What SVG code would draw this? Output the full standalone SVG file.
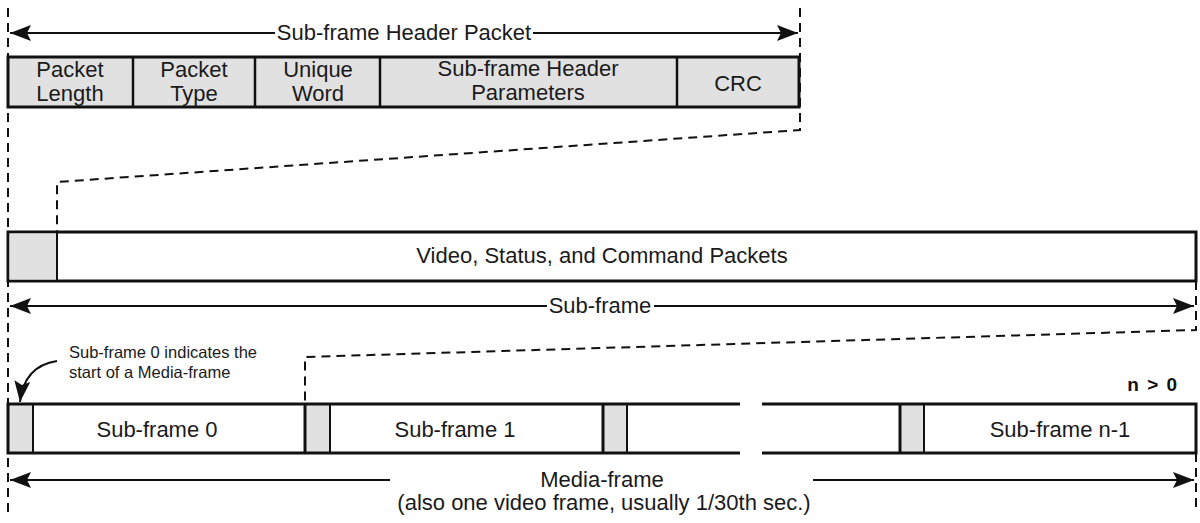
<svg xmlns="http://www.w3.org/2000/svg" width="1200" height="523" viewBox="0 0 1200 523">
<style>
.t{font-family:"Liberation Sans",Arial,sans-serif;font-size:22px;fill:#1a1a1a;text-anchor:middle}
.s{font-family:"Liberation Sans",Arial,sans-serif;font-size:16.5px;fill:#1a1a1a}
.b{font-family:"Liberation Sans",Arial,sans-serif;font-size:19px;font-weight:bold;fill:#111;text-anchor:middle;letter-spacing:1.5px}
.box{stroke:#111;stroke-width:3;fill:#fff}
.hd{fill:#e1e1e1}
.dv{stroke:#111;stroke-width:2.5}
.dv2{stroke:#111;stroke-width:2}
.dash{stroke:#111;stroke-width:2;fill:none;stroke-dasharray:9 6}
.arr{stroke:#111;stroke-width:2;fill:none}
</style>
<defs>
<marker id="ah" markerUnits="userSpaceOnUse" markerWidth="22" markerHeight="18" refX="21" refY="9" orient="auto-start-reverse">
<path d="M0,1 L21,9 L0,17 L4,9 z" fill="#111"/>
</marker>
</defs>

<g id="connectors">
<path class="dash" d="M8,8 V512"/>
<path class="dash" d="M800,8 V130 L57,182 V232"/>
<path class="dash" d="M1196,281 V330 L305,357 V404"/>
<path class="dash" d="M1196,453 V512"/>
<path class="arr" d="M275,33 H10" marker-end="url(#ah)"/>
<path class="arr" d="M533,33 H798" marker-end="url(#ah)"/>
<path class="arr" d="M547,306 H10" marker-end="url(#ah)"/>
<path class="arr" d="M654,306 H1194" marker-end="url(#ah)"/>
<path class="arr" d="M390,480 H10" marker-end="url(#ah)"/>
<path class="arr" d="M813,480 H1194" marker-end="url(#ah)"/>
<path class="arr" d="M57,361 Q24,366 20,402" marker-end="url(#ah)"/>
</g>

<g id="header-label"><text class="t" x="404" y="40">Sub-frame Header Packet</text></g>

<g id="header-packet">
<rect class="box" x="8" y="57" width="791" height="50" style="fill:#e1e1e1"/>
<line class="dv" x1="133" y1="57" x2="133" y2="107"/>
<line class="dv" x1="255" y1="57" x2="255" y2="107"/>
<line class="dv" x1="380" y1="57" x2="380" y2="107"/>
<line class="dv" x1="677" y1="57" x2="677" y2="107"/>
<text class="t" x="70" y="77">Packet</text>
<text class="t" x="70" y="101">Length</text>
<text class="t" x="194" y="77">Packet</text>
<text class="t" x="194" y="101">Type</text>
<text class="t" x="318" y="77">Unique</text>
<text class="t" x="318" y="101">Word</text>
<text class="t" x="528" y="76">Sub-frame Header</text>
<text class="t" x="528" y="100">Parameters</text>
<text class="t" x="738" y="91">CRC</text>
</g>

<g id="subframe">
<rect class="box" x="8" y="232" width="1188" height="49"/>
<rect class="hd" x="9.5" y="233.5" width="47.5" height="46"/>
<line class="dv2" x1="57" y1="232" x2="57" y2="281"/>
<text class="t" x="602" y="263">Video, Status, and Command Packets</text>
</g>

<g id="subframe-label"><text class="t" x="600" y="313">Sub-frame</text></g>

<g id="annotation">
<text class="s" x="69" y="358">Sub-frame 0 indicates the</text>
<text class="s" x="69" y="378">start of a Media-frame</text>
</g>

<g id="nlabel"><text class="b" x="1153" y="391">n &gt; 0</text></g>

<g id="mediaframe">
<rect class="hd" x="9" y="405" width="23" height="47"/>
<rect class="hd" x="306" y="405" width="23" height="47"/>
<rect class="hd" x="604" y="405" width="22" height="47"/>
<rect class="hd" x="901" y="405" width="22" height="47"/>
<path stroke="#111" stroke-width="3" fill="none" d="M740,404 H8 V453 H740"/>
<path stroke="#111" stroke-width="3" fill="none" d="M762,404 H1196 V453 H762"/>
<line class="dv" x1="305" y1="404" x2="305" y2="453" style="stroke-width:3"/>
<line class="dv2" x1="33" y1="404" x2="33" y2="453"/>
<line class="dv2" x1="330" y1="404" x2="330" y2="453"/>
<line class="dv" x1="603" y1="404" x2="603" y2="453" style="stroke-width:3"/>
<line class="dv2" x1="627" y1="404" x2="627" y2="453"/>
<line class="dv" x1="900" y1="404" x2="900" y2="453" style="stroke-width:3"/>
<line class="dv2" x1="924" y1="404" x2="924" y2="453"/>
<text class="t" x="157" y="437">Sub-frame 0</text>
<text class="t" x="455" y="437">Sub-frame 1</text>
<text class="t" x="1060" y="437">Sub-frame n-1</text>
</g>

<g id="media-label">
<text class="t" x="602" y="487">Media-frame</text>
<text class="t" x="604" y="510">(also one video frame, usually 1/30th sec.)</text>
</g>
</svg>
